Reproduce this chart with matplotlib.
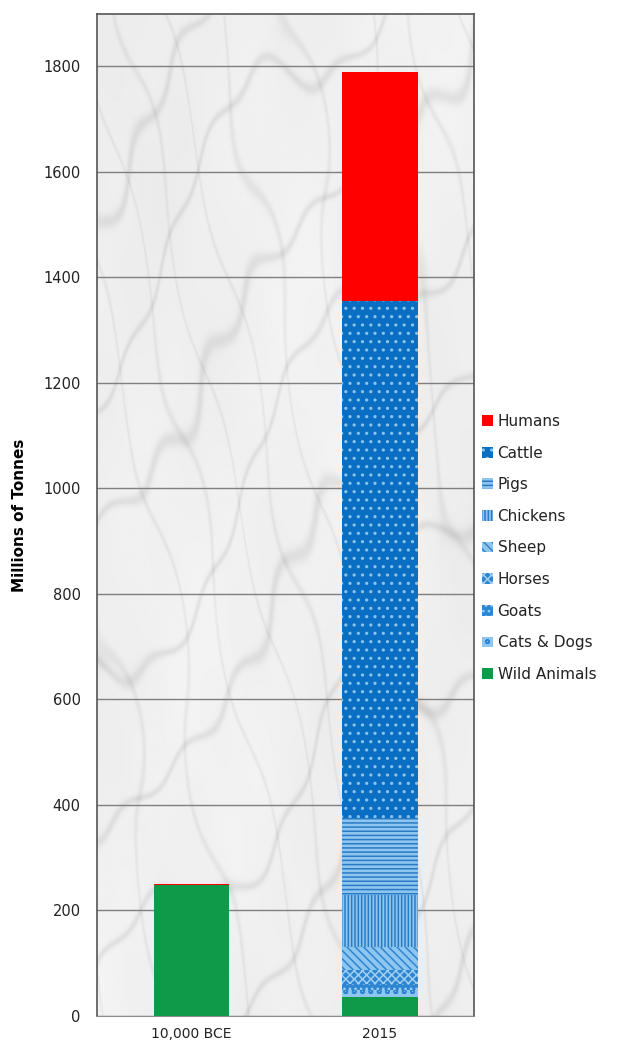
import numpy as np
import matplotlib
matplotlib.use('Agg')
import matplotlib.pyplot as plt

# categories
categories = ['10,000 BCE', '2015']

# series (bottom to top), millions of tonnes
wild_animals = [248, 35]
cats_dogs = [0, 15]
goats = [0, 10]
horses = [0, 28]
sheep = [0, 42]
chickens = [0, 100]
pigs = [0, 145]
cattle = [0, 980]
humans = [3, 435]

series_names = ['Wild Animals', 'Cats & Dogs', 'Goats', 'Horses', 'Sheep',
                'Chickens', 'Pigs', 'Cattle', 'Humans']
series_values = [wild_animals, cats_dogs, goats, horses, sheep,
                 chickens, pigs, cattle, humans]

# face colour, hatch, hatch colour
styles = {
    'Wild Animals': ('#0F9A4A', None, '#0F9A4A'),
    'Cats & Dogs': ('#8EC6EF', 'oo', '#2F86D0'),
    'Goats': ('#2F86D0', '...', '#9ED0F3'),
    'Horses': ('#2F86D0', 'xxxx', '#9ED0F3'),
    'Sheep': ('#8EC6EF', '\\\\\\\\', '#2F86D0'),
    'Chickens': ('#8EC6EF', '|||||', '#2A7BC6'),
    'Pigs': ('#8EC6EF', '----', '#2A7BC6'),
    'Cattle': ('#0A6FC2', '..', '#8CC3EC'),
    'Humans': ('#FF0000', None, '#FF0000'),
}

plt.rcParams['hatch.linewidth'] = 1.1
plt.rcParams['font.family'] = ['DejaVu Sans']

fig = plt.figure(figsize=(6.19, 10.49), dpi=100)
ax = fig.add_axes([0.157, 0.0315, 0.609, 0.9555])

# marble-like backdrop (decoration only)
yy, xx = np.mgrid[0:1:900j, 0:1:400j]
cloud = (np.sin(xx * 5 + yy * 4 + 0.5) * 0.4 + np.sin(xx * 11 - yy * 9 + 1.3) * 0.3
         + np.sin(xx * 23 + yy * 17 + 0.7) * 0.2 + np.sin(xx * 41 - yy * 37 + 2.1) * 0.1)
turb = (np.sin(xx * 6 - yy * 5) * 0.3 + np.sin(xx * 15 + yy * 12 + 0.9) * 0.15
        + np.sin(xx * 31 - yy * 27 + 1.7) * 0.07)
v1 = np.exp(-np.sin((xx * 3 + yy * 6 + turb) * np.pi) ** 2 / 0.015)
v2 = np.exp(-np.sin((xx * 7 - yy * 4 + turb * 1.3 + 0.4) * np.pi) ** 2 / 0.01)
marble = 0.955 - 0.035 * (cloud + 1) / 2 - 0.07 * v1 - 0.05 * v2
ax.imshow(marble, cmap='gray', vmin=0, vmax=1, extent=[-0.5, 1.5, 0, 1900],
          aspect='auto', zorder=0, interpolation='bilinear')

x = np.arange(len(categories))
bottom = np.zeros(len(categories))
handles = {}
for name, vals in zip(series_names, series_values):
    fc, hatch, hc = styles[name]
    b = ax.bar(x, vals, width=0.4, bottom=bottom, color=fc, edgecolor=hc,
               hatch=hatch, linewidth=0, label=name, zorder=2)
    handles[name] = b
    bottom += np.array(vals)

ax.set_xlim(-0.5, 1.5)
ax.set_ylim(0, 1900)
ax.set_yticks(np.arange(0, 1801, 200))
ax.set_xticks(x)
ax.set_xticklabels(categories)
ax.tick_params(axis='y', length=0, pad=12, labelsize=10.5, colors='#222222')
ax.tick_params(axis='x', length=0, pad=8, labelsize=10, colors='#222222')
ax.yaxis.grid(True, color='#7f7f7f', linewidth=1.0, zorder=1)
ax.set_axisbelow(True)
for side in ['top', 'right', 'left']:
    ax.spines[side].set_color('#555555')
    ax.spines[side].set_linewidth(1.2)
ax.spines['bottom'].set_color('#8a8a8a')

fig.text(20 / 619, 0.509, 'Millions of Tonnes', rotation=90, ha='center', va='center',
         fontsize=11, fontweight='bold')

order = ['Humans', 'Cattle', 'Pigs', 'Chickens', 'Sheep', 'Horses', 'Goats',
         'Cats & Dogs', 'Wild Animals']
leg = fig.legend([handles[n] for n in order], order, loc='center left',
                 bbox_to_anchor=(0.757, 0.4776), frameon=False, fontsize=11,
                 handlelength=0.7, handleheight=0.7, handletextpad=0.3,
                 labelspacing=1.09)
for txt in leg.get_texts():
    txt.set_color('#222222')

fig.savefig('out.png', dpi=100)
